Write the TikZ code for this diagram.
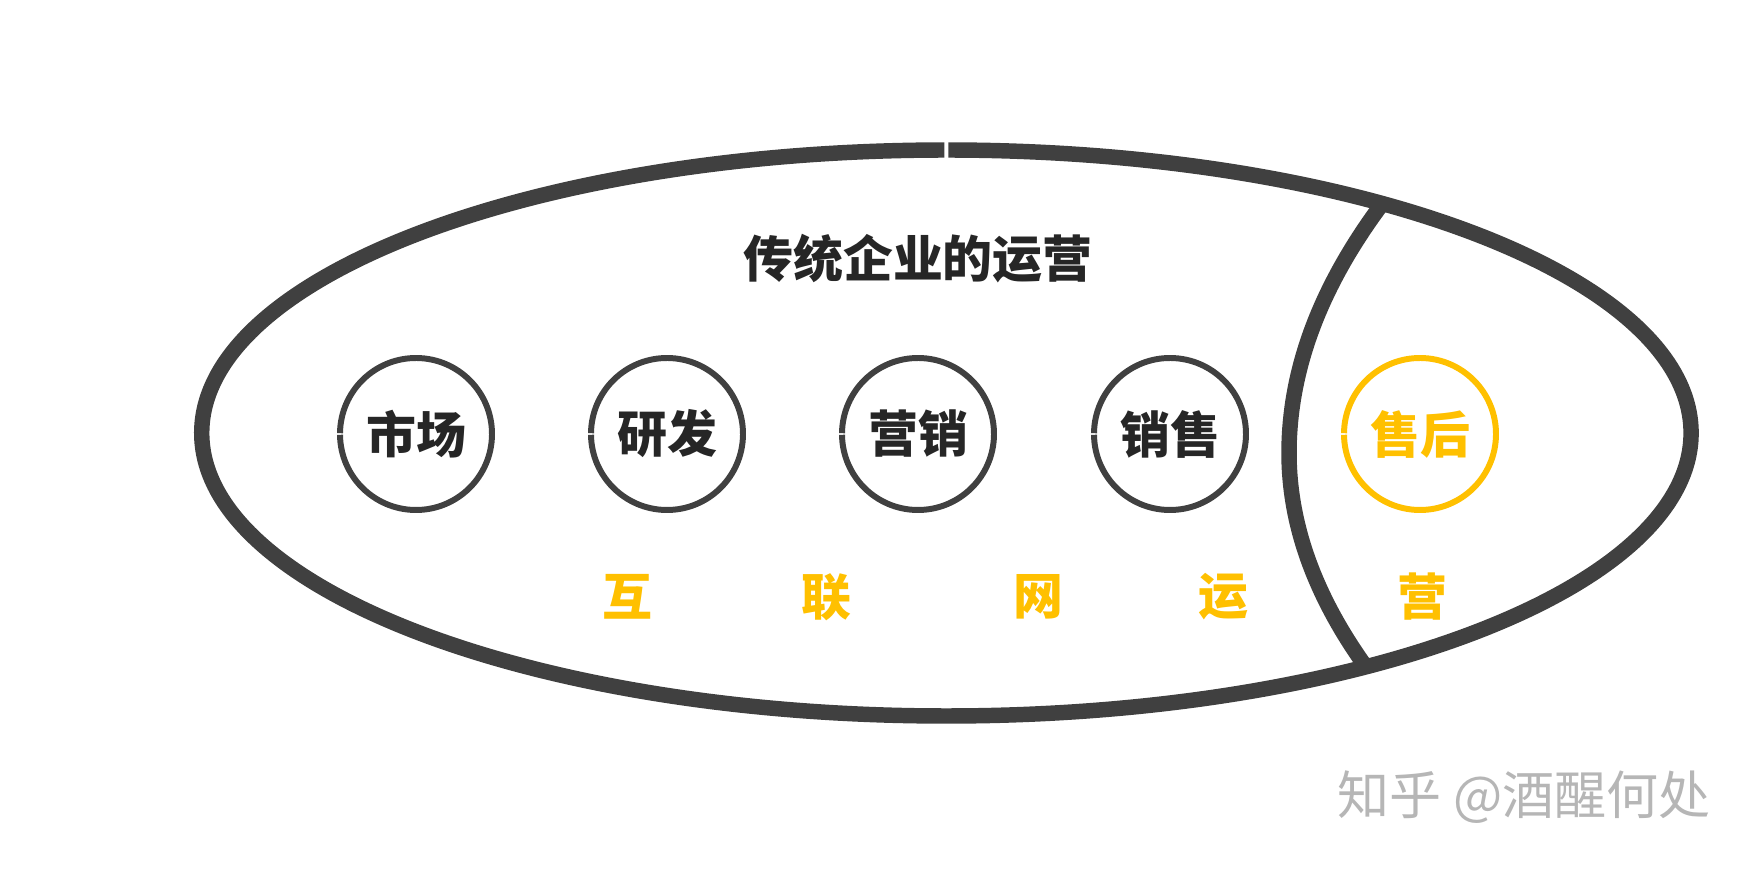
\documentclass[tikz,border=0pt]{standalone}
\usepackage{fontspec}
\newfontfamily\cjk{Noto Sans CJK SC}
\usetikzlibrary{positioning}
\definecolor{RingGray}{RGB}{64,64,64}
\definecolor{LabelBlack}{RGB}{38,38,38}
\definecolor{AccentGold}{RGB}{255,192,0}
\definecolor{MarkGray}{RGB}{182,182,182}

\begin{document}
\begin{tikzpicture}[x=0.1mm, y=-0.1mm,
    stagetext/.style={font=\cjk\bfseries\fontsize{14.2pt}{14.2pt}\selectfont, inner sep=0pt},
    stage/.style={stagetext, text=LabelBlack, circle, minimum size=15.2mm}]
    \useasboundingbox (0,0) rectangle (1759,869);

    % Outer ellipse (slightly open at the top)
    \draw[RingGray, line width=4.4pt] (946.4,433) ++(-89.85:744.7 and 283)
      arc[start angle=-89.85, end angle=269.85, x radius=744.7, y radius=283];

    % Inner arc cutting off the right end
    \draw[RingGray, line width=4.4pt]
      plot[domain=204:453, samples=40] ({1289+15*((\x-453)/100)^2}, \x)
      -- plot[domain=453:667, samples=40] ({1289+16.8*((\x-453)/100)^2}, \x);

    % Title
    \node[stagetext, text=LabelBlack] (title) at (918,259) {传统企业的运营};

    % Stages
    \foreach \x/\name/\txt in {416/market/市场, 667/rnd/研发, 918/promo/营销, 1170/sales/销售} {
      \node[stage] (\name) at (\x,434) {\txt};
      \draw[RingGray, line width=1.7pt] (\name.center) ++(180.6:76)
        arc[start angle=180.6, end angle=539.4, radius=76];
    }
    \node[stage, text=AccentGold] (after) at (1420,434) {售后};
    \draw[AccentGold, line width=1.7pt] (after.center) ++(180.6:76)
      arc[start angle=180.6, end angle=539.4, radius=76];

    % Internet operation row
    \foreach \x/\name/\ch in {627/hu/互, 826/lian/联, 1038/wang/网, 1223/yun/运, 1422/ying/营}
      \node[stagetext, text=AccentGold] (\name) at (\x,597) {\ch};

    % Watermark
    \node[font=\cjk\fontsize{14.8pt}{14.8pt}\selectfont, text=MarkGray, inner sep=0pt] (mark) at (1524,797) {知乎 @酒醒何处};
\end{tikzpicture}
\end{document}
